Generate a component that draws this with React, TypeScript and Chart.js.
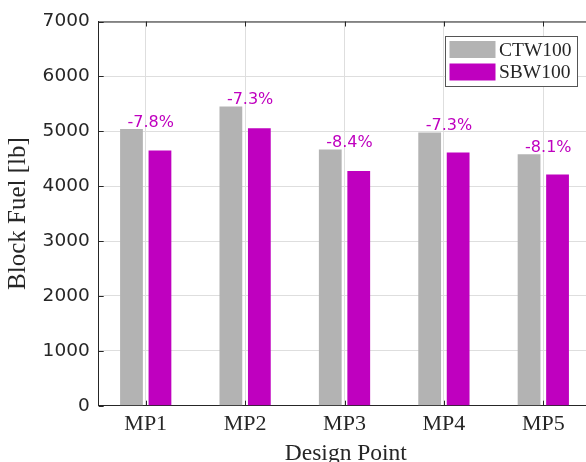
import React, { useEffect, useRef } from 'react';
import { Chart, registerables } from 'chart.js';

Chart.register(...registerables);

const categories = ['MP1', 'MP2', 'MP3', 'MP4', 'MP5'];
const ctw100 = [5040, 5450, 4667, 4976, 4582];
const sbw100 = [4648, 5054, 4274, 4613, 4212];
const pctLabels = ['-7.8%', '-7.3%', '-8.4%', '-7.3%', '-8.1%'];
const seriesNames = ['CTW100', 'SBW100'];
const yTickValues = [0, 1000, 2000, 3000, 4000, 5000, 6000, 7000];

const GRAY = '#b3b3b3';
const MAGENTA = '#bf00bf';
const AXIS = '#262626';
const GRID = '#dedede';
const SERIF = '"Liberation Serif", "Times New Roman", serif';
const SANS = '"DejaVu Sans", sans-serif';

const overlayPlugin = {
  id: 'overlay',
  afterDatasetsDraw(chart: any) {
    const { ctx, scales } = chart;
    const x = scales.x;
    const meta = chart.getDatasetMeta(0);
    ctx.save();
    ctx.font = `16px ${SANS}`;
    ctx.fillStyle = MAGENTA;
    ctx.textAlign = 'center';
    ctx.textBaseline = 'alphabetic';
    pctLabels.forEach((t, i) => {
      const el = meta.data[i];
      ctx.fillText(t, x.getPixelForValue(i + 1) + 5, el.y - 2.5);
    });
    ctx.restore();
  },
  afterDraw(chart: any) {
    const { ctx, chartArea: a, scales } = chart;
    const x = scales.x;
    const y = scales.y;
    ctx.save();
    ctx.strokeStyle = AXIS;
    ctx.lineWidth = 1;
    ctx.beginPath();
    ctx.moveTo(a.left, a.top + 0.5);
    ctx.lineTo(a.right, a.top + 0.5);
    ctx.stroke();
    const tl = 5;
    ctx.beginPath();
    categories.forEach((_, i) => {
      const px = Math.round(x.getPixelForValue(i + 1)) + 0.5;
      ctx.moveTo(px, a.bottom);
      ctx.lineTo(px, a.bottom - tl);
      ctx.moveTo(px, a.top);
      ctx.lineTo(px, a.top + tl);
    });
    yTickValues.forEach((v) => {
      const py = Math.round(y.getPixelForValue(v)) + 0.5;
      ctx.moveTo(a.left, py);
      ctx.lineTo(a.left + tl, py);
    });
    ctx.stroke();

    const bx = 445.5, by = 36.5, bw = 132, bh = 50;
    ctx.fillStyle = '#ffffff';
    ctx.fillRect(bx, by, bw, bh);
    ctx.strokeStyle = '#555555';
    ctx.strokeRect(bx, by, bw, bh);
    const colors = [GRAY, MAGENTA];
    ctx.font = `19.5px ${SERIF}`;
    ctx.textAlign = 'left';
    ctx.textBaseline = 'alphabetic';
    seriesNames.forEach((name, i) => {
      const sy = 41 + i * 22.5;
      ctx.fillStyle = colors[i];
      ctx.fillRect(449.5, sy, 46, 17);
      ctx.fillStyle = AXIS;
      ctx.fillText(name, 499, sy + 14.5);
    });
    ctx.restore();
  },
};

export default function App() {
  const ref = useRef<HTMLCanvasElement>(null);

  useEffect(() => {
    if (!ref.current) return;
    const chart = new Chart(ref.current, {
      type: 'bar',
      data: {
        datasets: [
          {
            label: seriesNames[0],
            data: categories.map((_, i) => ({ x: i + 1, y: ctw100[i] })),
            backgroundColor: GRAY,
            borderWidth: 0,
          },
          {
            label: seriesNames[1],
            data: categories.map((_, i) => ({ x: i + 1, y: sbw100[i] })),
            backgroundColor: MAGENTA,
            borderWidth: 0,
          },
        ],
      },
      options: {
        responsive: false,
        animation: false,
        devicePixelRatio: 1,
        categoryPercentage: 0.573,
        barPercentage: 0.8,
        layout: { padding: { top: 21.5, right: 7, left: 0, bottom: 0 } },
        plugins: {
          legend: { display: false },
          tooltip: { enabled: false },
        },
        scales: {
          x: {
            type: 'linear',
            min: 0.527,
            max: 5.5,
            offset: false,
            afterBuildTicks: (scale: any) => {
              scale.ticks = categories.map((_, i) => ({ value: i + 1 }));
            },
            afterFit: (scale: any) => {
              scale.height = 56.3;
            },
            grid: { color: GRID, drawTicks: false, offset: false },
            border: { color: AXIS, width: 1 },
            ticks: {
              autoSkip: false,
              maxRotation: 0,
              padding: 5,
              color: AXIS,
              font: { family: SERIF, size: 22 },
              callback: (v: any) => categories[Math.round(Number(v)) - 1] ?? '',
            },
            title: {
              display: true,
              text: 'Design Point',
              color: AXIS,
              font: { family: SERIF, size: 23.5 },
              padding: { top: 0, bottom: -6 },
            },
          },
          y: {
            min: 0,
            max: 7000,
            afterBuildTicks: (scale: any) => {
              scale.ticks = yTickValues.map((v) => ({ value: v }));
            },
            afterFit: (scale: any) => {
              scale.width = 98.7;
            },
            grid: { color: GRID, drawTicks: false },
            border: { color: AXIS, width: 1 },
            ticks: {
              padding: 9,
              color: AXIS,
              font: { family: SANS, size: 18.5 },
              callback: (v: any) => String(v),
            },
            title: {
              display: true,
              text: 'Block Fuel [lb]',
              color: AXIS,
              font: { family: SERIF, size: 25 },
              padding: { top: 3.3, bottom: 0 },
            },
          },
        },
      },
      plugins: [overlayPlugin],
    } as any);
    return () => chart.destroy();
  }, []);

  return (
    <div
      style={{
        position: 'fixed',
        left: 0,
        top: 0,
        width: 586,
        height: 462,
        overflow: 'hidden',
        background: '#ffffff',
      }}
    >
      <canvas ref={ref} width={600} height={462} style={{ display: 'block', width: 600, height: 462 }} />
    </div>
  );
}
